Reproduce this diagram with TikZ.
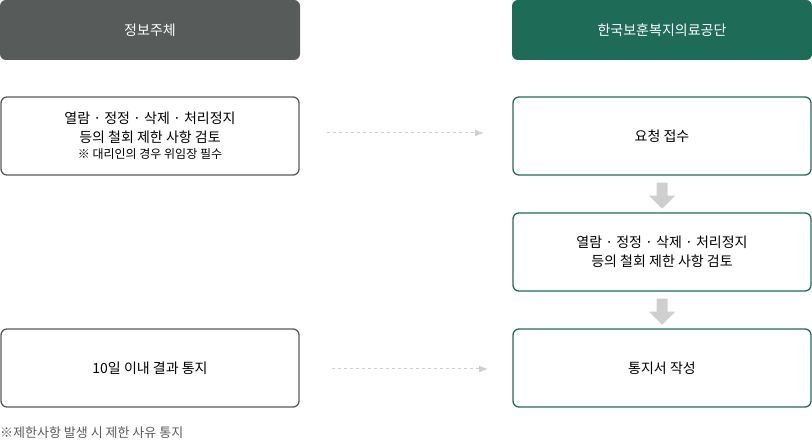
\documentclass[tikz,border=0pt]{standalone}
\usepackage{fontspec}
\setmainfont{Noto Sans CJK KR}
\usetikzlibrary{positioning,shapes.arrows,arrows.meta}
\definecolor{headGray}{HTML}{575C5A}
\definecolor{headGreen}{HTML}{1E6B58}
\definecolor{arrowGray}{HTML}{CFCFCF}
\tikzset{
  head/.style={rounded corners=6pt, minimum width=300pt, minimum height=60pt,
    text=white, font=\fontsize{14}{17}\selectfont, inner sep=0pt},
  box/.style={draw, line width=1.3pt, rounded corners=6pt, minimum width=298pt,
    minimum height=78pt, align=center, font=\fontsize{14}{19}\selectfont, inner sep=0pt},
  downArrow/.style={single arrow, fill=arrowGray, draw=none, rotate=-90,
    minimum height=26pt, minimum width=26pt, single arrow head extend=3pt, inner sep=2pt},
  link/.style={dashed, draw=arrowGray, line width=1pt, -{Latex[length=9pt,width=7pt]}}
}
\begin{document}
\begin{tikzpicture}[x=1pt,y=-1pt]
  \useasboundingbox (0,0) rectangle (812,446);
  % headers
  \node[head, fill=headGray] (user) at (150,30) {정보주체};
  \node[head, fill=headGreen] (agency) at (662,30) {한국보훈복지의료공단};
  % left column
  \node[box, draw=headGray] (request) at (150,136)
    {열람 · 정정 · 삭제 · 처리정지\\등의 철회 제한 사항 검토\\[-3pt]{\fontsize{12}{15}\selectfont ※ 대리인의 경우 위임장 필수}};
  \node[box, draw=headGray] (notice) at (150,368) {10일 이내 결과 통지};
  % right column
  \node[box, draw=headGreen] (receive) at (662,136) {요청 접수};
  \node[box, draw=headGreen] (review) at (662,252) {열람 · 정정 · 삭제 · 처리정지\\등의 철회 제한 사항 검토};
  \node[box, draw=headGreen] (result) at (662,368) {통지서 작성};
  % steps
  \node[downArrow] (s1) at (662,193) {};
  \node[downArrow] (s2) at (662,309) {};
  % links
  \coordinate (a1) at (327,133);
  \coordinate (b1) at (484,133);
  \coordinate (a2) at (332,369);
  \coordinate (b2) at (488,369);
  \draw[link] (a1) -- (b1);
  \draw[link] (a2) -- (b2);
  \node[anchor=west, font=\fontsize{13}{15}\selectfont, text=headGray, inner sep=0pt] (foot) at (0,433) {※제한사항 발생 시 제한 사유 통지};
\end{tikzpicture}
\end{document}
